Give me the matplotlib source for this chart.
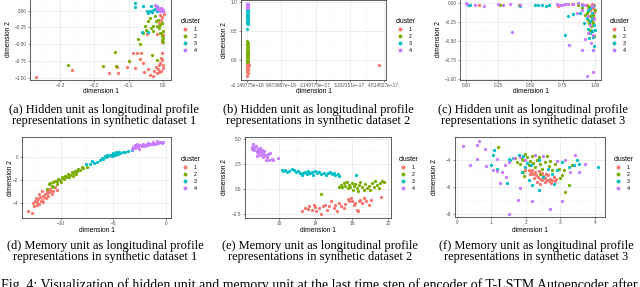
import matplotlib
matplotlib.use("Agg")
import matplotlib.pyplot as plt
from matplotlib.ticker import AutoMinorLocator

plt.rcParams['font.family'] = ['Liberation Sans', 'DejaVu Sans']

colors = ['#F8766D', '#7CAE00', '#00BFC4', '#C77CFF']
clusters = ['1', '2', '3', '4']

# (a) hidden unit, synthetic dataset 1
a1 = [(-0.37, -0.985), (-0.266, -0.885), (-0.157, -0.935), (-0.131, -0.925), (-0.134, -0.845),
      (-0.104, -0.835), (-0.099, -0.75), (-0.087, -0.635), (-0.075, -0.625), (-0.068, -0.725),
      (-0.065, -0.635), (-0.058, -0.785), (-0.083, -0.85), (-0.055, -0.91), (-0.043, -0.87),
      (-0.037, -0.96), (-0.029, -0.975), (-0.026, -0.895), (-0.021, -0.835), (-0.016, -0.875),
      (-0.012, -0.81), (-0.010, -0.775), (-0.007, -0.70), (-0.004, -0.635), (-0.002, -0.735),
      (-0.001, -0.81), (0.0, -0.86), (-0.012, -0.91), (-0.019, -0.935), (-0.005, -0.895),
      (0.0, -0.36), (-0.004, -0.46), (-0.046, -0.35), (-0.017, -0.345), (-0.009, -0.065),
      (-0.002, -0.095), (0.002, -0.045), (-0.005, -0.145), (-0.011, -0.185)]
a2 = [(-0.276, -0.81), (-0.174, -0.825), (-0.141, -0.61), (-0.136, -0.825), (-0.1, -0.75),
      (-0.073, -0.425), (-0.068, -0.5), (-0.058, -0.335), (-0.052, -0.235), (-0.049, -0.295),
      (-0.043, -0.16), (-0.038, -0.11), (-0.032, -0.66), (-0.019, -0.735), (-0.028, -0.235),
      (-0.022, -0.16), (-0.019, -0.235), (-0.014, -0.135), (-0.012, -0.26), (-0.008, -0.21),
      (-0.006, -0.335), (-0.004, -0.385), (-0.002, -0.435), (0.0, -0.31), (-0.003, -0.185),
      (-0.01, -0.335), (-0.029, -0.31), (-0.036, -0.26), (0.0, -0.46), (0.001, -0.41),
      (-0.024, -0.085)]
a3 = [(-0.083, 0.115), (-0.083, 0.055), (-0.058, 0.075), (-0.034, 0.075), (-0.048, -0.01),
      (-0.043, -0.035), (-0.038, 0.0), (-0.029, 0.015), (-0.024, 0.025), (-0.019, -0.01),
      (-0.014, 0.0), (-0.019, 0.065), (-0.06, -0.325), (-0.043, -0.32), (-0.031, -0.015),
      (-0.01, 0.015)]
a4 = [(-0.024, 0.09), (-0.019, 0.055), (-0.014, 0.04), (-0.012, 0.025), (-0.008, 0.015),
      (-0.005, 0.005), (-0.002, 0.0), (0.0, 0.0), (-0.017, 0.025), (-0.01, 0.0),
      (-0.004, 0.025), (-0.013, 0.005), (-0.021, 0.075), (-0.007, 0.035), (0.001, 0.015)]

# (b) hidden unit, synthetic dataset 2
b1x = [-2.15e-18, -2.0e-18, -2.15e-18, -1.9e-18, -2.15e-18, -2.05e-18, -2.15e-18, -1.95e-18,
       -2.15e-18, -2.1e-18, -2.15e-18, -1.9e-18, -2.15e-18, -2.0e-18, -1.55e-18, 4.35e-17]
b1y = [-0.28, -0.22, -0.20, -0.18, -0.17, -0.16, -0.14, -0.13, -0.12, -0.10, -0.09, -0.08,
       -0.06, -0.05, -0.09, -0.09]
b2x = [-2.15e-18, -1.95e-18, -2.15e-18, -2.0e-18, -2.15e-18, -1.9e-18, -2.15e-18, -2.05e-18,
       -2.15e-18, -1.95e-18, -2.15e-18, -2.0e-18, -2.15e-18, -1.9e-18, -2.15e-18, -2.05e-18,
       -2.15e-18, -1.95e-18, -2.15e-18]
b2y = [0.32, 0.30, 0.28, 0.27, 0.25, 0.22, 0.20, 0.18, 0.15, 0.13, 0.12, 0.10, 0.08, 0.07,
       0.05, 0.03, 0.0, -0.02, -0.04]
b3x = [-2.15e-18, -1.95e-18, -2.15e-18, -2.0e-18, -2.15e-18, -1.9e-18, -2.15e-18, -2.05e-18,
       -2.15e-18, -1.95e-18, -2.15e-18, -2.0e-18, -2.15e-18, -1.9e-18, -2.15e-18]
b3y = [0.53, 0.62, 0.63, 0.65, 0.68, 0.70, 0.72, 0.74, 0.76, 0.78, 0.80, 0.82, 0.84, 0.86, 0.88]
b4x = [-2.15e-18, -1.95e-18, -2.15e-18, -2.0e-18, -2.15e-18, -1.9e-18, -2.15e-18, -2.05e-18]
b4y = [0.90, 0.91, 0.92, 0.93, 0.94, 0.95, 0.96, 0.97]
b_ticks = [-2.149775e-18, 9.673987e-18, 2.149775e-17, 3.332151e-17, 4.514527e-17]
b_labels = ['\u22122.149775e\u221218', '9.673987e\u221218', '2.149775e\u221217',
            '3.332151e\u221217', '4.514527e\u221217']

# (c) hidden unit, synthetic dataset 3
c1 = [(0.098, -0.026), (0.716, -0.04), (0.82, -0.015), (0.95, -0.05), (0.97, -0.04),
      (0.985, -0.07), (0.995, -0.03), (0.96, -0.09), (0.99, -0.12), (0.975, -0.15),
      (0.99, -0.2), (0.94, -0.03), (0.98, -0.01)]
c2 = [(0.265, -0.026), (0.41, -0.03), (0.42, -0.035), (0.768, -0.02), (0.87, -0.026),
      (0.897, -0.07), (0.936, -0.136), (0.948, -0.114), (0.961, -0.18), (0.974, -0.245),
      (0.987, -0.158), (0.969, -0.311), (0.961, -0.355), (0.979, -0.377), (0.995, -0.443),
      (0.948, -0.224), (0.923, -0.158), (1.0, -0.092), (0.943, -0.048), (0.956, -0.268),
      (0.987, -0.268)]
c3 = [(0.015, -0.026), (0.034, -0.03), (0.42, -0.04), (0.536, -0.03), (0.562, -0.03),
      (0.588, -0.035), (0.62, -0.04), (0.644, -0.03), (0.794, -0.18), (0.832, -0.149),
      (0.768, -0.42), (0.884, -0.136), (0.918, -0.268), (0.943, -0.346), (0.961, -0.4),
      (0.987, -0.45), (0.995, -0.575), (0.987, -0.62), (0.974, -0.377), (1.0, -0.355),
      (0.948, -0.092), (0.974, -0.136), (0.936, -0.2), (0.987, -0.048), (0.961, -0.07),
      (0.897, -0.026), (0.995, -0.29), (0.954, -0.465), (0.979, -0.2), (0.964, -0.245)]
c4 = [(0.0, -0.004), (0.008, -0.022), (0.072, -0.035), (0.137, -0.039), (0.247, -0.013),
      (0.284, -0.03), (0.343, -0.013), (0.415, -0.035), (0.356, -0.39), (0.8, -0.56),
      (0.897, -0.627), (0.923, -0.478), (0.966, -0.53), (0.987, -0.91), (0.94, -0.97),
      (0.95, -0.40), (0.982, -0.42), (0.858, -0.136), (0.897, -0.09), (0.974, -0.048),
      (0.995, -0.22), (0.961, -0.29), (0.948, -0.18), (0.987, -0.62), (0.704, -0.022),
      (0.73, -0.035), (0.742, -0.03), (0.768, -0.018), (0.794, -0.018), (0.832, -0.013),
      (0.871, -0.004), (0.897, -0.022), (0.923, -0.026)]

# (d) memory unit, synthetic dataset 1
d1 = [(-13.11, -4.76), (-12.73, -4.94), (-12.48, -3.82), (-12.32, -3.97), (-12.17, -3.68),
      (-12.06, -4.12), (-12.0, -3.53), (-11.84, -3.76), (-11.75, -3.38), (-11.68, -3.97),
      (-11.52, -3.24), (-11.43, -3.59), (-11.37, -2.94), (-11.21, -3.38), (-11.11, -3.09),
      (-11.05, -2.79), (-10.89, -3.24), (-10.73, -2.94), (-10.57, -2.65), (-10.41, -2.88),
      (-12.25, -4.18), (-12.54, -4.26), (-11.94, -3.88), (-11.62, -3.47), (-11.3, -3.18),
      (-12.38, -3.59), (-12.63, -4.06), (-12.1, -3.24), (-11.0, -3.0), (-11.78, -2.94)]
d2 = [(-11.37, -2.79), (-11.11, -2.35), (-10.89, -2.5), (-10.73, -2.21), (-10.57, -2.06),
      (-10.35, -2.12), (-10.25, -1.91), (-10.1, -2.0), (-9.94, -1.76), (-9.78, -1.82),
      (-9.62, -1.62), (-9.46, -1.71), (-9.3, -1.47), (-9.14, -1.56), (-8.98, -1.32),
      (-8.83, -1.41), (-8.67, -1.24), (-8.51, -1.18), (-8.35, -1.03), (-8.19, -1.12),
      (-8.03, -0.88), (-7.87, -0.94), (-7.49, -0.88), (-10.79, -2.65), (-10.41, -2.35),
      (-10.03, -2.21), (-9.68, -1.91), (-9.21, -1.76), (-8.9, -1.62), (-8.57, -1.47),
      (-11.05, -2.29)]
d3 = [(-7.62, -0.59), (-7.24, -0.65), (-6.89, -0.53), (-6.6, -0.44), (-6.29, -0.29),
      (-5.97, -0.15), (-5.71, 0.0), (-5.49, 0.06), (-5.33, 0.15), (-5.17, 0.06),
      (-5.02, 0.24), (-4.86, 0.15), (-4.7, 0.29), (-4.54, 0.24), (-4.38, 0.35),
      (-4.13, 0.41), (-3.9, 0.47), (-3.59, 0.5), (-3.27, 0.59), (-6.13, -0.06),
      (-5.81, 0.09), (-5.59, 0.21), (-5.08, 0.35), (-4.76, 0.44), (-4.48, 0.47),
      (-7.05, -0.35)]
d4 = [(-3.27, 0.74), (-3.1, 0.88), (-2.95, 0.82), (-2.79, 0.94), (-2.63, 0.88),
      (-2.46, 1.03), (-2.31, 0.94), (-2.14, 1.06), (-1.99, 1.0), (-1.83, 1.12),
      (-1.68, 1.06), (-1.52, 1.18), (-1.36, 1.12), (-1.21, 1.24), (-1.05, 1.18),
      (-0.89, 1.26), (-0.73, 1.21), (-0.57, 1.32), (-0.41, 1.26), (-0.25, 1.35),
      (-2.73, 1.12), (-2.2, 1.18), (-1.76, 1.24), (-1.27, 1.32), (-0.83, 1.38),
      (-2.95, 1.03), (-2.55, 0.74)]

# (e) memory unit, synthetic dataset 2
e1 = [(12.57, -2.11), (12.86, -1.88), (13.16, -1.97), (13.34, -1.71), (13.6, -2.04),
      (13.85, -1.55), (14.07, -2.2), (14.33, -1.88), (14.59, -2.43), (14.77, -1.71),
      (15.06, -1.55), (15.25, -2.04), (15.5, -1.64), (15.72, -1.22), (15.98, -1.88),
      (16.17, -1.55), (16.35, -2.11), (16.61, -1.38), (16.83, -1.71), (17.08, -1.88),
      (17.27, -1.45), (17.56, -0.99), (17.71, -1.15), (17.93, -0.89), (18.0, -1.22),
      (18.18, -1.55), (18.37, -1.38), (18.55, -2.04), (18.73, -1.22), (18.92, -1.05),
      (19.1, -1.38), (19.28, -0.89), (19.54, -1.22), (19.83, -1.55), (20.13, -1.12),
      (21.19, -0.79), (18.66, -2.11), (13.96, -1.78)]
e2 = [(16.53, 0.26), (16.83, 0.43), (17.08, 0.59), (17.27, 0.33), (17.45, 0.66),
      (17.63, 0.43), (17.82, 0.2), (18.0, 0.59), (18.18, 0.33), (18.37, 0.53),
      (18.55, 0.1), (18.73, 0.43), (18.92, 0.66), (19.1, 0.26), (19.28, -0.07),
      (19.47, 0.53), (19.65, 0.1), (19.83, 0.33), (20.02, -0.07), (20.2, 0.59),
      (20.39, 0.26), (20.57, 0.76), (20.75, 0.43), (20.94, 0.1), (21.12, 0.59),
      (21.3, 0.76), (21.49, 0.66), (14.62, -0.46), (16.9, 0.2), (17.56, 0.1),
      (18.07, -0.07), (18.66, -0.23), (17.34, 0.66)]
e3 = [(10.29, 1.91), (10.48, 1.81), (10.66, 1.91), (10.84, 1.74), (11.1, 1.84),
      (11.39, 1.97), (11.65, 1.91), (11.87, 1.74), (12.13, 1.84), (12.31, 1.58),
      (12.5, 1.41), (12.68, 1.64), (12.86, 1.74), (13.05, 1.51), (13.23, 1.84),
      (13.41, 1.58), (13.6, 1.74), (13.78, 1.41), (13.96, 1.84), (14.15, 1.58),
      (14.4, 1.74), (14.62, 1.51), (14.88, 1.64), (15.14, 1.41), (15.36, 1.58),
      (15.61, 1.74), (15.8, 1.48), (15.98, 1.64), (16.17, 1.41), (16.46, 1.51),
      (16.61, 1.25), (18.48, 1.35), (13.3, 1.64), (14.26, 1.71)]
e4 = [(6.99, 4.21), (7.17, 4.47), (7.28, 3.88), (7.36, 4.14), (7.54, 3.72),
      (7.65, 3.95), (7.72, 3.55), (7.83, 3.78), (7.91, 3.39), (8.02, 3.62),
      (8.09, 3.88), (8.2, 3.49), (8.28, 3.22), (8.39, 3.72), (8.46, 3.39),
      (8.53, 2.89), (8.64, 3.22), (8.75, 3.49), (8.9, 2.89), (9.01, 3.55),
      (9.19, 2.96), (9.38, 2.83), (9.85, 3.06), (7.06, 3.95), (7.43, 4.28),
      (7.61, 3.29), (7.94, 4.05), (7.54, 3.62)]

# (f) memory unit, synthetic dataset 3
f1 = [(1.98, -4.71), (2.08, -4.76), (2.15, -4.88), (2.19, -4.71), (2.22, -5.01),
      (2.27, -4.88), (2.3, -5.13), (2.35, -5.25), (2.37, -4.81), (2.42, -5.37),
      (2.44, -5.01), (2.48, -5.5), (2.51, -5.2), (2.54, -5.62), (2.56, -5.3),
      (2.61, -5.45), (2.64, -5.13), (2.68, -5.55), (2.71, -5.37), (2.73, -5.69),
      (2.77, -5.45), (2.8, -5.25), (2.83, -5.55), (2.87, -5.37), (2.32, -5.62),
      (2.42, -5.74), (2.25, -5.3), (2.46, -4.96), (2.58, -5.01), (2.13, -5.06)]
f2 = [(1.19, -3.04), (1.69, -3.83), (1.74, -4.15), (1.84, -4.32), (1.93, -4.02),
      (1.98, -3.58), (2.03, -3.78), (2.08, -4.39), (2.13, -4.07), (2.17, -3.73),
      (2.22, -4.22), (2.27, -4.52), (2.32, -4.02), (2.37, -3.78), (2.42, -4.32),
      (2.46, -4.64), (2.56, -4.15), (2.61, -3.73), (2.66, -4.47), (2.71, -4.07),
      (2.75, -4.76), (2.85, -4.27), (2.95, -4.64), (3.0, -5.3), (3.04, -5.13),
      (3.14, -6.36), (3.26, -5.87), (3.33, -4.39), (3.09, -4.71), (1.96, -5.2),
      (1.93, -4.88), (1.88, -3.9), (2.42, -5.01)]
f3 = [(1.09, -3.29), (1.06, -3.66), (1.0, -4.39), (1.16, -4.64), (1.45, -5.69),
      (1.5, -3.9), (1.55, -4.02), (1.64, -3.83), (1.79, -3.66), (1.93, -3.73),
      (2.03, -4.22), (2.15, -4.39), (2.08, -5.5), (2.17, -5.82), (2.39, -6.18),
      (2.51, -5.25), (2.75, -5.01), (2.8, -5.74), (2.9, -4.76), (3.06, -4.15),
      (3.24, -4.52), (3.38, -4.39), (3.48, -4.02), (3.55, -4.32), (4.08, -4.52),
      (2.64, -4.64), (2.37, -4.02), (1.98, -4.52), (1.88, -4.88)]
f4 = [(0.17, -2.97), (0.63, -2.6), (0.58, -2.92), (0.82, -3.17), (0.39, -4.39),
      (0.58, -3.9), (0.85, -4.47), (1.06, -4.76), (1.16, -4.81), (1.26, -5.69),
      (1.4, -4.39), (1.5, -4.15), (1.67, -3.83), (1.84, -3.78), (1.98, -4.02),
      (2.27, -3.66), (2.51, -3.71), (2.9, -4.07), (3.14, -3.98), (3.43, -3.66),
      (3.7, -4.32), (3.53, -4.88), (3.04, -7.04), (2.71, -7.58), (2.17, -7.02),
      (1.77, -6.97), (1.5, -8.0), (1.82, -6.06), (1.3, -4.88), (1.43, -5.25),
      (3.29, -4.88), (1.16, -3.9)]

captions_top = ['(a) Hidden unit as longitudinal profile\nrepresentations in synthetic dataset 1',
                '(b) Hidden unit as longitudinal profile\nrepresentations in synthetic dataset 2',
                '(c) Hidden unit as longitudinal profile\nrepresentations in synthetic dataset 3']
captions_bottom = ['(d) Memory unit as longitudinal profile\nrepresentations in synthetic dataset 1',
                   '(e) Memory unit as longitudinal profile\nrepresentations in synthetic dataset 2',
                   '(f) Memory unit as longitudinal profile\nrepresentations in synthetic dataset 3']
fig_caption = ('Fig. 4: Visualization of hidden unit and memory unit at the last time step of '
               'encoder of T-LSTM Autoencoder after')

W, H = 640, 287
fig = plt.figure(figsize=(6.4, 2.87), dpi=100)


def make_axes(l, t, r, b):
    return fig.add_axes([l / W, 1 - b / H, (r - l) / W, (b - t) / H])


def style(ax, xt, xl, yt, yl, xlim, ylim, ylab_px, xlab_px, l, t, r, b):
    ax.set_xlim(xlim)
    ax.set_ylim(ylim)
    ax.set_xticks(xt, labels=xl)
    ax.set_yticks(yt, labels=yl)
    ax.xaxis.set_minor_locator(AutoMinorLocator(2))
    ax.yaxis.set_minor_locator(AutoMinorLocator(2))
    ax.grid(which='major', color='#EBEBEB', lw=0.6)
    ax.grid(which='minor', color='#F3F3F3', lw=0.35)
    ax.set_axisbelow(True)
    ax.tick_params(which='major', length=1.5, width=0.4, color='#333333',
                   labelsize=3.4, labelcolor='#4D4D4D', pad=1.0)
    ax.tick_params(which='minor', length=0)
    for s in ax.spines.values():
        s.set_color('#333333')
        s.set_linewidth(0.55)
    ax.set_xlabel('dimension 1', fontsize=4.8)
    ax.set_ylabel('dimension 2', fontsize=4.8)
    ax.xaxis.set_label_coords(0.5, -(xlab_px - b) / (b - t))
    ax.yaxis.set_label_coords((ylab_px - l) / (r - l), 0.5)


def draw(ax, groups, lx, ty):
    hs = []
    for (xs, ys), c, lab in zip(groups, colors, clusters):
        hs.append(ax.scatter(xs, ys, s=5.5, color=c, linewidths=0, label=lab))
    ax.legend(handles=hs, title='cluster', loc='upper left',
              bbox_to_anchor=(lx / W, 1 - ty / H), bbox_transform=fig.transFigure,
              frameon=False, fontsize=3.9, title_fontsize=4.9, alignment='left',
              borderpad=0, borderaxespad=0, handlelength=1.48, handletextpad=0.93,
              labelspacing=0.35, scatterpoints=1, markerscale=1.2)


def unzip(pts):
    return [p[0] for p in pts], [p[1] for p in pts]


# row 1
box = (30, -1, 171, 80)
ax = make_axes(*box)
draw(ax, [unzip(a1), unzip(a2), unzip(a3), unzip(a4)], 181, 18)
style(ax, [-0.3, -0.2, -0.1, 0.0], ['\u22120.3', '\u22120.2', '\u22120.1', '0.0'],
      [0.0, -0.25, -0.5, -0.75, -1.0], ['0.00', '\u22120.25', '\u22120.50', '\u22120.75', '\u22121.00'],
      (-0.387, 0.023), (-1.035, 0.175), 12.5, 88.5, *box)

box = (241, 0, 386, 80)
ax = make_axes(*box)
draw(ax, [(b1x, b1y), (b2x, b2y), (b3x, b3y), (b4x, b4y)], 396, 18)
style(ax, b_ticks, b_labels, [0.0, 0.5, 1.0], ['0.0', '0.5', '1.0'],
      (-4.4e-18, 4.6e-17), (-0.345, 1.034), 227.5, 88.5, *box)

box = (460, -1, 601, 80)
ax = make_axes(*box)
draw(ax, [unzip(c1), unzip(c2), unzip(c3), unzip(c4)], 610, 18)
style(ax, [0.0, 0.25, 0.5, 0.75, 1.0], ['0.00', '0.25', '0.50', '0.75', '1.00'],
      [0.0, -0.25, -0.5, -0.75, -1.0], ['0.00', '\u22120.25', '\u22120.50', '\u22120.75', '\u22121.00'],
      (-0.047, 1.047), (-1.018, 0.05), 441.5, 88.5, *box)

# row 2
box = (22, 137.5, 171, 218)
ax = make_axes(*box)
draw(ax, [unzip(d1), unzip(d2), unzip(d3), unzip(d4)], 181, 156)
style(ax, [-10, -5, 0], ['\u221210', '\u22125', '0'], [0, -2, -4], ['0', '\u22122', '\u22124'],
      (-13.71, 0.476), (-5.35, 1.72), 13.5, 226.5, *box)

box = (245, 137, 391, 218)
ax = make_axes(*box)
draw(ax, [unzip(e1), unzip(e2), unzip(e3), unzip(e4)], 399, 156)
style(ax, [10, 14, 18, 22], ['10', '14', '18', '22'], [-2.5, 0.0, 2.5, 5.0],
      ['\u22122.5', '0.0', '2.5', '5.0'], (6.25, 22.3), (-2.85, 5.15), 228.5, 226.5, *box)

box = (455, 137, 605, 217)
ax = make_axes(*box)
draw(ax, [unzip(f1), unzip(f2), unzip(f3), unzip(f4)], 614, 156)
style(ax, [0, 1, 2, 3, 4], ['0', '1', '2', '3', '4'], [-4, -6, -8], ['\u22124', '\u22126', '\u22128'],
      (-0.05, 4.29), (-8.2, -2.3), 438.5, 226.5, *box)

# captions
for cx, txt in zip([104, 318, 533], captions_top):
    fig.text(cx / W, 1 - 103.5 / H, txt, ha='center', va='top', family='Liberation Serif',
             fontsize=9.0, linespacing=0.93)
for cx, txt in zip([105, 320, 536], captions_bottom):
    fig.text(cx / W, 1 - 239.5 / H, txt, ha='center', va='top', family='Liberation Serif',
             fontsize=9.0, linespacing=0.93)
fig.text(1 / W, -2.5 / H, fig_caption, ha='left', va='baseline', family='Liberation Serif',
         fontsize=10.0)

fig.savefig('out.png', dpi=100)
